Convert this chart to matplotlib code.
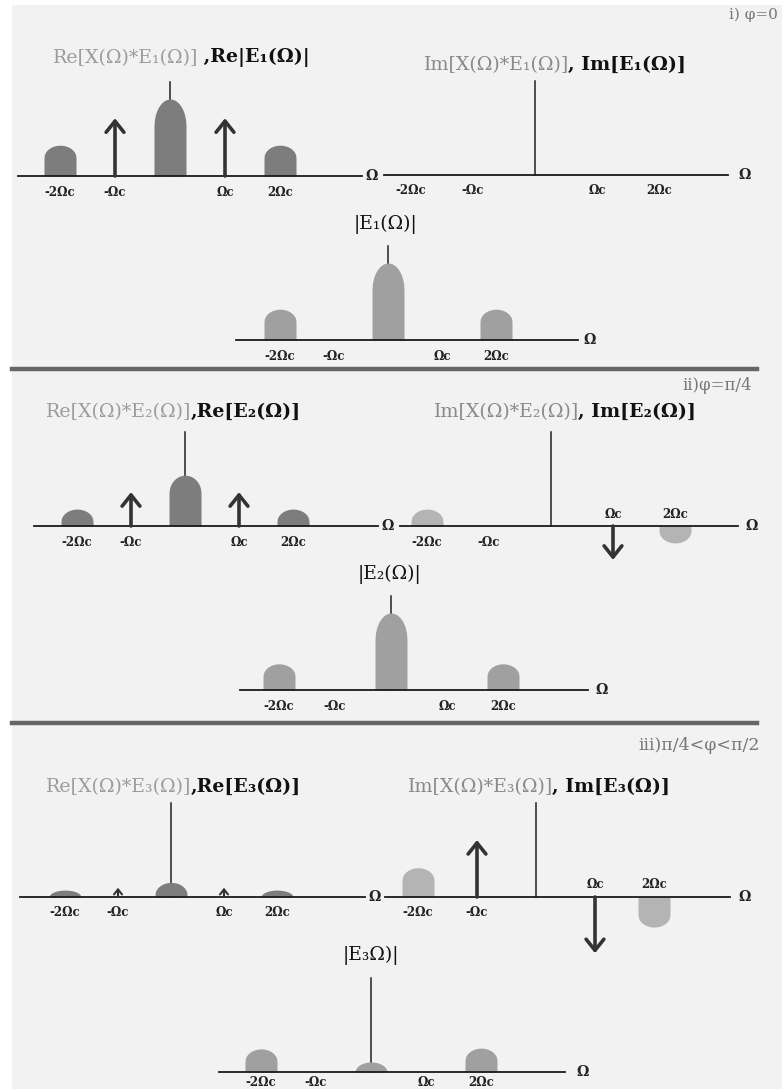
import numpy as np
import matplotlib
from matplotlib import pyplot as plt
from matplotlib.patches import Rectangle
from matplotlib.lines import Line2D

matplotlib.use('Agg')

W, H = 782, 1089
SERIF = ['DejaVu Serif', 'Liberation Serif']

# --- data ---------------------------------------------------------------
lobe_freqs = [-2, 0, 2]          # centres of the spectral lobes (in Ωc)
delta_freqs = [-1, 1]            # carrier deltas (in Ωc)
tick_freqs = [-2, -1, 1, 2]
tick_labels = ['-2Ωc', '-Ωc', 'Ωc', '2Ωc']

# case i) φ = 0
re1_lobes = [0.40, 1.00, 0.40]
re1_deltas = [0.75, 0.75]
im1_lobes = [0.0, 0.0, 0.0]
im1_deltas = [0.0, 0.0]
abs1_lobes = [0.40, 1.00, 0.40]

# case ii) φ = π/4
re2_lobes = [0.22, 0.66, 0.22]
re2_deltas = [0.44, 0.44]
im2_lobes = [0.22, 0.0, -0.22]
im2_deltas = [0.0, -0.44]
abs2_lobes = [0.34, 1.00, 0.34]

# case iii) π/4 < φ < π/2
re3_lobes = [0.09, 0.19, 0.09]
re3_deltas = [0.12, 0.12]
im3_lobes = [0.38, 0.0, -0.39]
im3_deltas = [0.74, -0.73]
abs3_lobes = [0.30, 0.13, 0.31]

case_labels = ['i) φ=0', 'ii)φ=π/4', 'iii)π/4<φ<π/2']

# --- layout (pixels) ------------------------------------------------------
PX_UNIT = 77.0      # pixels per amplitude unit
LOBE_HW = 16.0      # lobe half width, px
AXIS_TOP = 1.22     # height of the vertical axis line

RE_COL, IM_COL, ABS_COL = '#7d7d7d', '#b4b4b4', '#a0a0a0'

fig = plt.figure(figsize=(W / 100, H / 100), dpi=100, facecolor='white')
fig.add_artist(Rectangle((12 / W, 0), 1, 1 - 5 / H, transform=fig.transFigure,
                         facecolor='#f2f2f2', edgecolor='none', zorder=-10))
for sy in (369, 723):
    fig.add_artist(Line2D([12 / W, 757 / W], [1 - sy / H] * 2, transform=fig.transFigure,
                          color='#666666', lw=3.2))


def panel(cx, by, sx, x0, x1, xo, lobes, deltas, color, ticks_above=(), tick_dy=-16):
    """一个频谱小图, cx/by 为原点像素位置, sx 为每个Ωc的像素数"""
    ax = fig.add_axes([0, 0, 1, 1])
    ax.set_xlim(-cx / sx, (W - cx) / sx)
    ax.set_ylim((by - H) / PX_UNIT, by / PX_UNIT)
    ax.axis('off')
    ax.patch.set_visible(False)

    ax.plot([(x0 - cx) / sx, (x1 - cx) / sx], [0, 0], color='#1a1a1a', lw=1.3, zorder=3)
    ax.plot([0, 0], [0, AXIS_TOP], color='#222222', lw=1.1, zorder=1)
    ax.text((xo - cx) / sx, 0, 'Ω', ha='center', va='center', fontsize=10,
            fontweight='bold', family=SERIF, color='#222222')

    hw = LOBE_HW / sx
    t = np.linspace(-1, 1, 80)
    for f, h in zip(lobe_freqs, lobes):
        if h == 0:
            continue
        cap = min(abs(h), max(0.35 * abs(h), 0.16))
        y = np.sign(h) * (abs(h) - cap + cap * np.sqrt(1 - t ** 2))
        ax.fill_between(f + hw * t, 0, y, color=color, lw=0, zorder=2)

    for f, h in zip(delta_freqs, deltas):
        if h == 0:
            continue
        k = min(1.0, abs(h) / 0.35)
        ax.annotate('', xy=(f, h), xytext=(f, 0),
                    arrowprops=dict(arrowstyle='->,head_length=0.4,head_width=0.32',
                                    lw=max(1.5, 2.6 * k), color='#333333', shrinkA=0,
                                    shrinkB=0, mutation_scale=max(9, 20 * k)), zorder=4)

    for f, lbl in zip(tick_freqs, tick_labels):
        dy = 12 if f in ticks_above else tick_dy
        ax.annotate(lbl, xy=(f, 0), xytext=(0, dy), textcoords='offset pixels',
                    ha='center', va='center', fontsize=8.5, fontweight='bold',
                    family=SERIF, color='#222222')
    return ax


def title(x, y, grey, black, grey_col='#9c9c9c'):
    t1 = fig.text(x / W, 1 - y / H, grey, ha='left', va='center', fontsize=13.7,
                  family=SERIF, color=grey_col)
    ann = plt.gca().annotate(black, xy=(1, 0), xycoords=t1, ha='left', va='bottom',
                             fontsize=13.7, family=SERIF, fontweight='bold', color='#111111')
    return t1, ann


def centred(x, y, s):
    fig.text(x / W, 1 - y / H, s, ha='center', va='center', fontsize=13.5,
             family=SERIF, color='#111111')


# case i
panel(170, 176, 55, 18, 362, 372, re1_lobes, re1_deltas, RE_COL)
title(52, 58, 'Re[X(Ω)*E₁(Ω)]', ' ,Re|E₁(Ω)|')
panel(535, 175, 62, 384, 728, 745, im1_lobes, im1_deltas, IM_COL)
title(423, 65, 'Im[X(Ω)*E₁(Ω)]', ', Im[E₁(Ω)]', '#8a8a8a')
panel(388, 340, 54, 236, 578, 590, abs1_lobes, [0, 0], ABS_COL)
centred(386, 224, '|E₁(Ω)|')

# case ii
panel(185, 526, 54, 34, 378, 388, re2_lobes, re2_deltas, RE_COL)
title(45, 412, 'Re[X(Ω)*E₂(Ω)]', ',Re[E₂(Ω)]')
panel(551, 526, 62, 400, 738, 752, im2_lobes, im2_deltas, IM_COL, ticks_above=(1, 2))
title(433, 412, 'Im[X(Ω)*E₂(Ω)]', ', Im[E₂(Ω)]', '#8a8a8a')
panel(391, 690, 56, 240, 588, 602, abs2_lobes, [0, 0], ABS_COL)
centred(390, 574, '|E₂(Ω)|')

# case iii
panel(171, 897, 53, 20, 365, 375, re3_lobes, re3_deltas, RE_COL)
title(45, 787, 'Re[X(Ω)*E₃(Ω)]', ',Re[E₃(Ω)]')
panel(536, 897, 59, 385, 730, 745, im3_lobes, im3_deltas, IM_COL, ticks_above=(1, 2))
title(407, 787, 'Im[X(Ω)*E₃(Ω)]', ', Im[E₃(Ω)]', '#8a8a8a')
panel(371, 1072, 55, 219, 565, 583, abs3_lobes, [0, 0], ABS_COL, tick_dy=-10)
centred(371, 955, '|E₃Ω)|')

for (x, y), s, fs in zip([(778, 15), (752, 385), (760, 745)], case_labels, [11, 12, 12.5]):
    fig.text(x / W, 1 - y / H, s, ha='right', va='center', fontsize=fs,
             family=SERIF, color='#777777')

fig.savefig('out.png', dpi=100, facecolor=fig.get_facecolor())
